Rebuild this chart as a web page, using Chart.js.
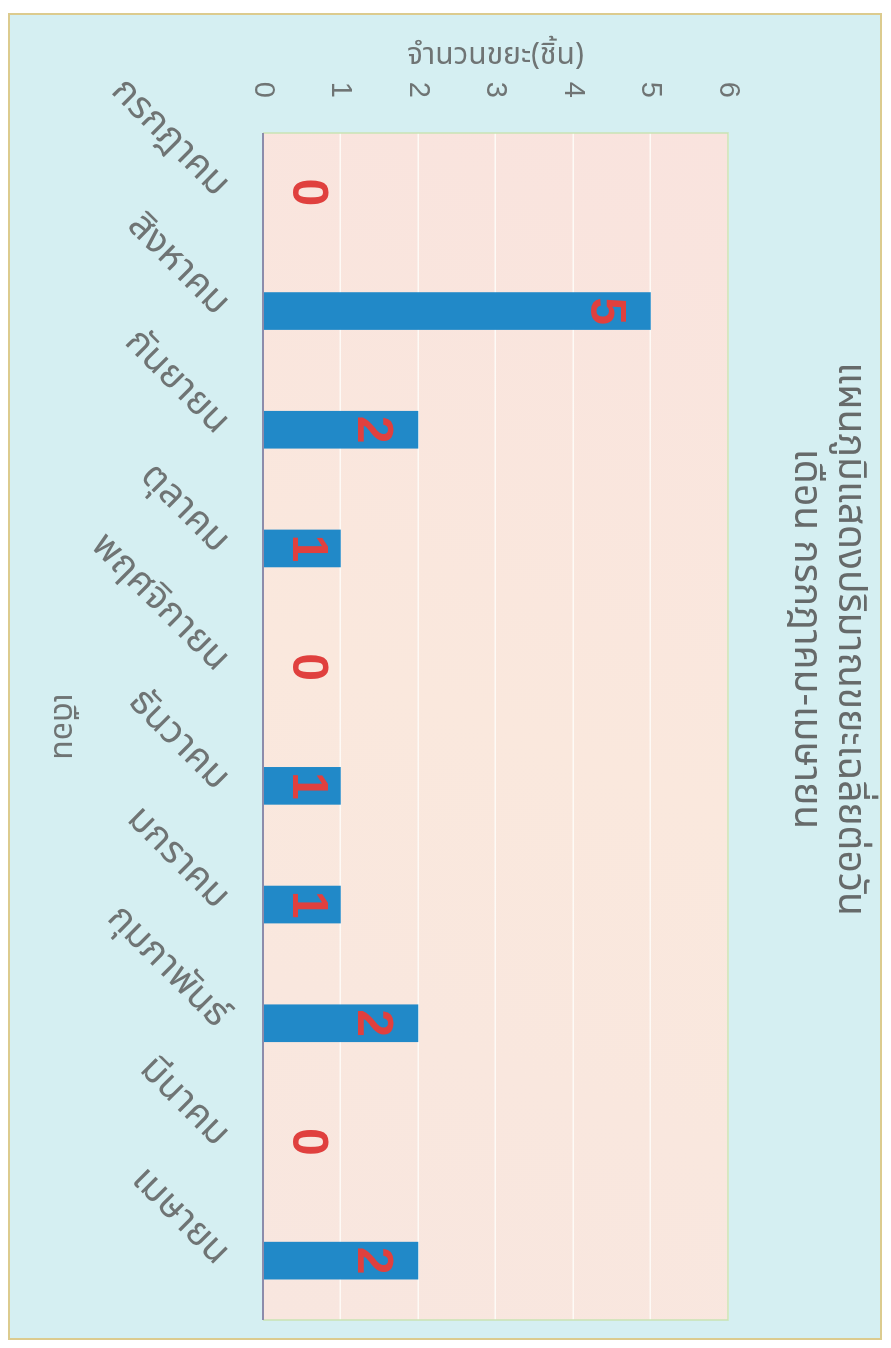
<!DOCTYPE html>
<html>
<head>
<meta charset="utf-8">
<script src="https://cdn.jsdelivr.net/npm/chart.js@4.4.1/dist/chart.umd.min.js"></script>
<style>
html,body{margin:0;padding:0;background:#ffffff;width:891px;height:1348px;overflow:hidden}
#frame{position:absolute;left:8px;top:13px;width:874px;height:1327px;background:#d5eff2;box-shadow:inset 0 0 0 2px #dccb8e;overflow:hidden}
#rot{position:absolute;left:0;top:0;width:1327px;height:874px;transform-origin:0 0;transform:translate(874px,0) rotate(90deg)}
canvas{display:block}
</style>
</head>
<body>
<div id="frame"><div id="rot"><canvas id="c" width="1327" height="874"></canvas></div></div>
<script>
// ---- data ----
const months = ['กรกฎาคม','สิงหาคม','กันยายน','ตุลาคม','พฤศจิกายน','ธันวาคม','มกราคม','กุมภาพันธ์','มีนาคม','เมษายน'];
const wasteCounts = [0, 5, 2, 1, 0, 1, 1, 2, 0, 2];
const valueTicks = [0, 1, 2, 3, 4, 5, 6];
const chartTitle = ['แผนภูมิแสดงปริมาณขยะเฉลี่ยต่อวัน', 'เดือน กรกฎาคม-เมษายน'];
const xAxisTitle = 'เดือน';
const yAxisTitle = 'จำนวนขยะ(ชิ้น)';

const THAI = "'Noto Sans Thai','Tahoma','Leelawadee UI','Loma','Garuda','Noto Sans',sans-serif";
const GREY = '#6f7474';

const plotBackground = {
  id: 'plotBackground',
  beforeDraw(chart) {
    const {ctx, chartArea: a} = chart;
    ctx.save();
    const g = ctx.createLinearGradient(a.left, a.top, a.right, a.bottom);
    g.addColorStop(0, '#f9e3de');
    g.addColorStop(0.5, '#fae8dd');
    g.addColorStop(1, '#f8e6df');
    ctx.fillStyle = g;
    ctx.fillRect(a.left, a.top, a.right - a.left, a.bottom - a.top);
    ctx.restore();
  },
  afterDraw(chart) {
    const {ctx, chartArea: a} = chart;
    ctx.save();
    ctx.strokeStyle = '#c9e3b4';
    ctx.lineWidth = 1.5;
    ctx.beginPath();
    ctx.moveTo(a.left, a.bottom); ctx.lineTo(a.left, a.top); ctx.lineTo(a.right, a.top); ctx.lineTo(a.right, a.bottom);
    ctx.stroke();
    ctx.strokeStyle = '#8c8cab';
    ctx.lineWidth = 2;
    ctx.beginPath();
    ctx.moveTo(a.left, a.bottom); ctx.lineTo(a.right, a.bottom);
    ctx.stroke();
    ctx.restore();
  }
};

const valueLabels = {
  id: 'valueLabels',
  afterDatasetsDraw(chart) {
    const {ctx} = chart;
    const ys = chart.scales.y;
    const meta = chart.getDatasetMeta(0);
    const base = ys.getPixelForValue(0);
    ctx.save();
    ctx.fillStyle = '#e0403e';
    ctx.font = "bold 50px 'Liberation Sans', Arial, sans-serif";
    ctx.textAlign = 'center';
    ctx.textBaseline = 'middle';
    meta.data.forEach((bar, i) => {
      const v = wasteCounts[i];
      const end = ys.getPixelForValue(v);
      const y = Math.min(end + 44, base - 46);
      ctx.fillText(String(v), bar.x, y + 2);
    });
    ctx.restore();
  }
};

const titleLines = {
  id: 'titleLines',
  afterDraw(chart) {
    const {ctx} = chart;
    ctx.save();
    ctx.fillStyle = '#666a6a';
    ctx.font = "39px " + THAI;
    ctx.textAlign = 'center';
    ctx.textBaseline = 'middle';
    ctx.fillText(chartTitle[0], 626, 35);
    ctx.fillText(chartTitle[1], 626, 79);
    ctx.restore();
  }
};

new Chart(document.getElementById('c'), {
  type: 'bar',
  data: {
    labels: months,
    datasets: [{
      data: wasteCounts,
      backgroundColor: '#2189c8',
      borderWidth: 0,
      barThickness: 37
    }]
  },
  options: {
    responsive: false,
    animation: false,
    devicePixelRatio: 1,
    layout: {padding: {top: 154, right: 20, left: 0, bottom: 0}},
    plugins: {legend: {display: false}, tooltip: {enabled: false}, title: {display: false}},
    scales: {
      x: {
        grid: {display: false, drawTicks: false},
        border: {display: false},
        ticks: {
          autoSkip: false, minRotation: 45, maxRotation: 45, padding: 26,
          color: GREY, font: {family: THAI, size: 38}
        },
        title: {display: true, text: xAxisTitle, color: GREY, font: {family: THAI, size: 32}, padding: {top: 0, bottom: 33}},
        afterFit(s) { s.height = 255; }
      },
      y: {
        min: 0, max: 6,
        afterBuildTicks(s) { s.ticks = valueTicks.map(v => ({value: v})); },
        grid: {color: '#fdfaf6', lineWidth: 1.5, drawTicks: false},
        border: {display: false},
        ticks: {padding: 35, color: GREY, font: {family: "'Liberation Sans', Arial, sans-serif", size: 29}},
        title: {display: true, text: yAxisTitle, color: GREY, font: {family: THAI, size: 30}, padding: {top: 27, bottom: 0}},
        afterFit(s) { s.width = 120; }
      }
    }
  },
  plugins: [plotBackground, valueLabels, titleLines]
});
</script>
</body>
</html>
